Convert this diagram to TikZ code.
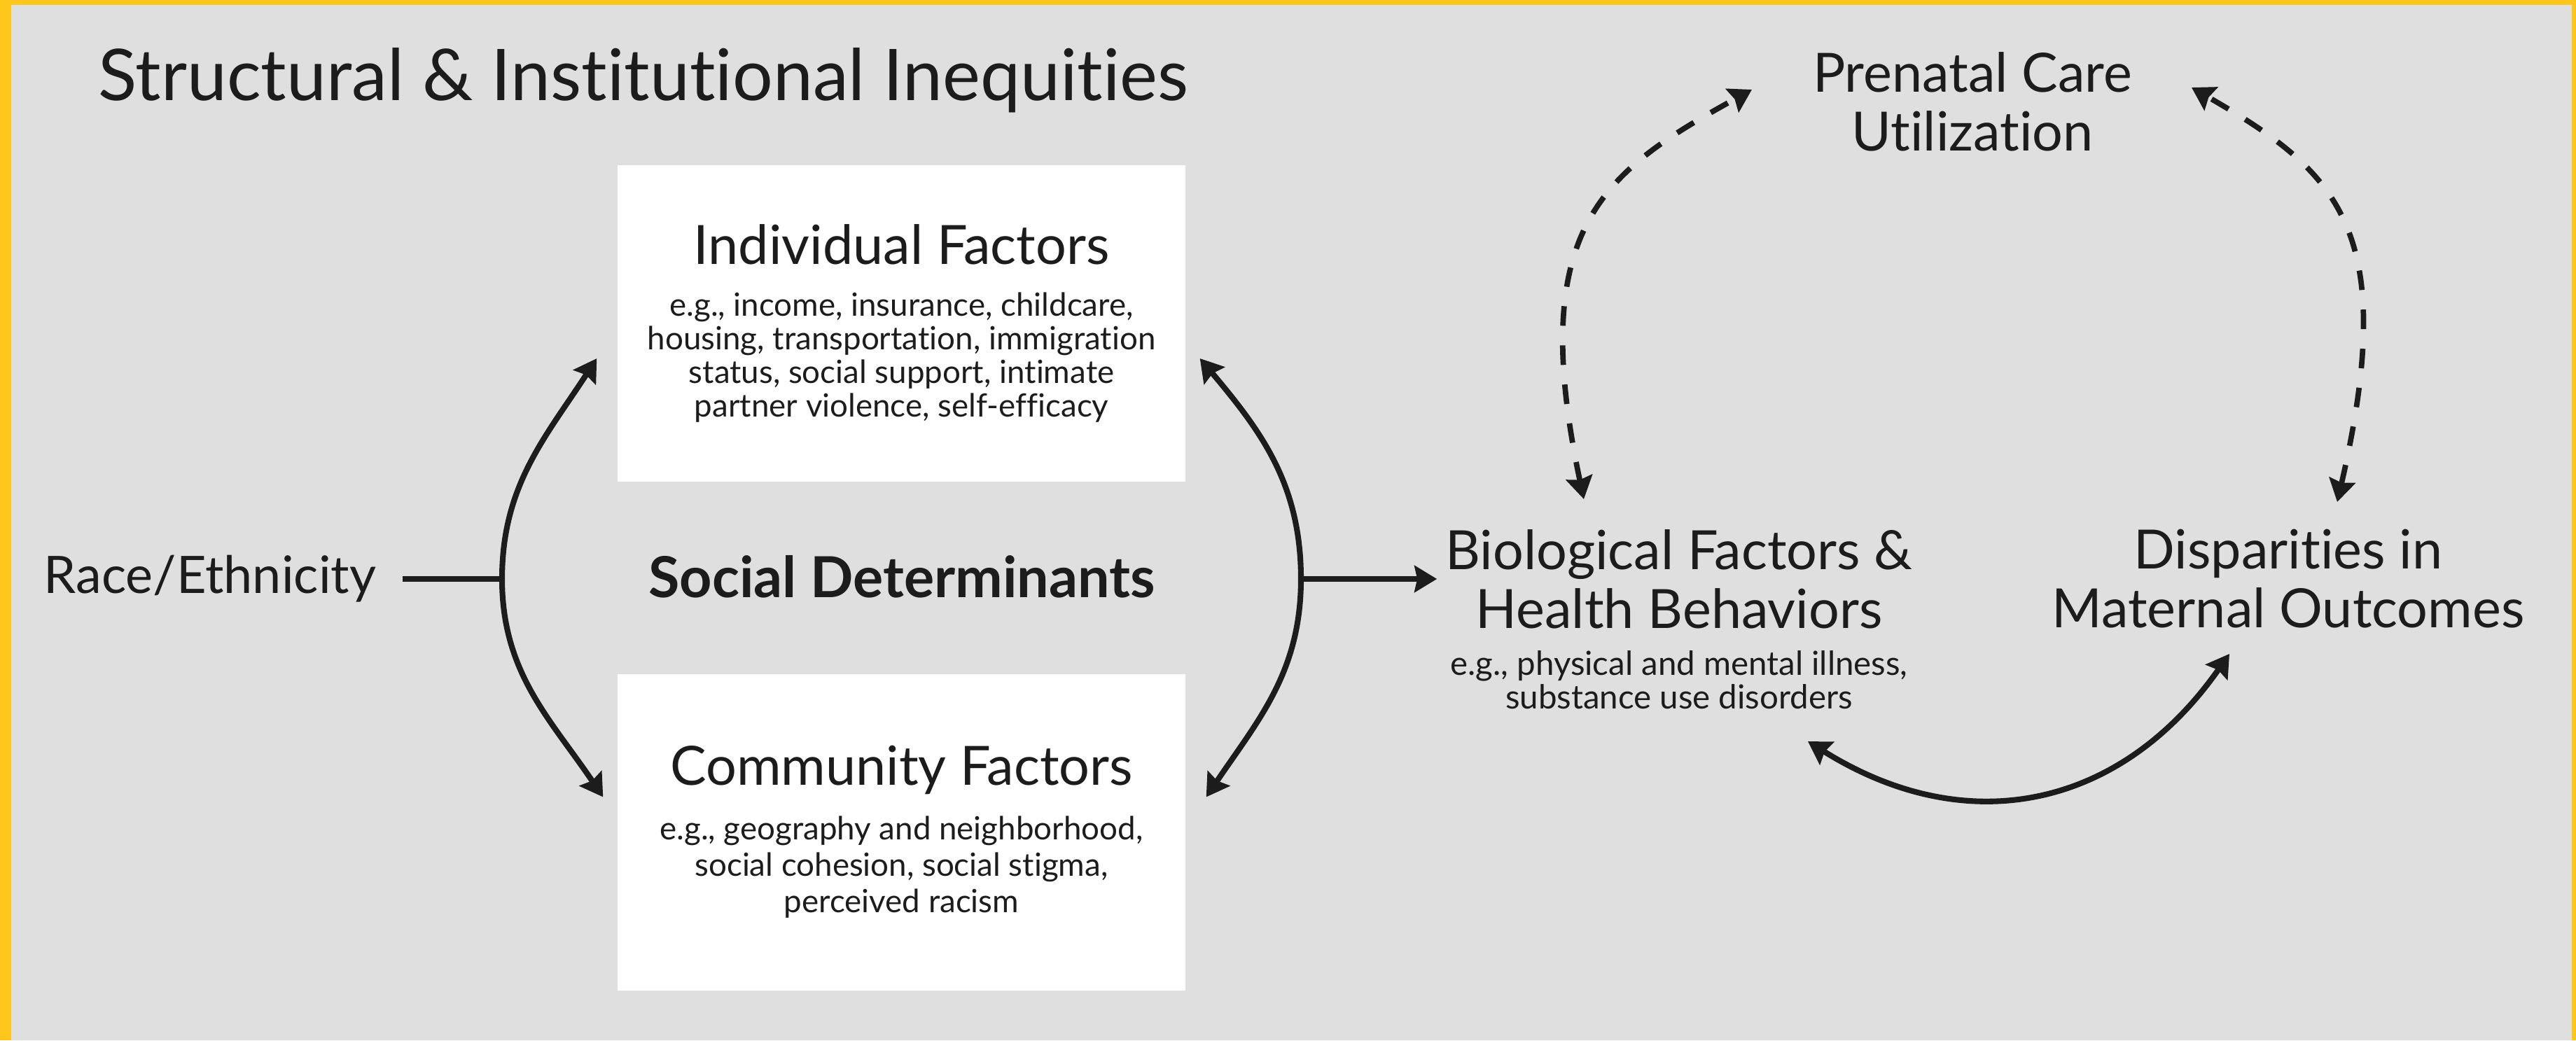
\documentclass[tikz,border=0pt]{standalone}
\usepackage{fontspec}
\setmainfont{Lato}[Ligatures=NoCommon]
\usetikzlibrary{arrows.meta, positioning, calc}
\definecolor{rimyellow}{HTML}{FEC51A}
\definecolor{panelgray}{HTML}{DFDFDF}
\definecolor{inkdark}{HTML}{1C1C1C}
\newcommand{\headfont}{\fontsize{22pt}{23.9pt}\selectfont}
\newcommand{\factorbox}[5]{%
  \node[fill=white, minimum width=8.11cm, minimum height=4.52cm,
        align=center, font=\fontsize{13pt}{#3}\selectfont] (#1) at (#2)
        {{\headfont #4}\\[7.3pt]#5};}

\begin{document}
\begin{tikzpicture}[font=\headfont, text=inkdark,
    link/.style={-{Stealth[length=3.2mm, width=3.8mm, inset=0.4mm]},
                 draw=inkdark, line width=2.3pt},
    twolink/.style={{Stealth[length=3.2mm, width=3.8mm, inset=0.4mm]}-{Stealth[length=3.2mm, width=3.8mm, inset=0.4mm]},
                 draw=inkdark, line width=2.3pt},
    dashlink/.style={twolink, line width=2.2pt, dash pattern=on 2.8mm off 2.8mm}]
  \useasboundingbox (0,0) rectangle (36.79,-14.86);
  % frame
  \fill[rimyellow] (0,0) rectangle (36.79,-14.86);
  \fill[panelgray] (0.16,-0.07) rectangle (36.73,-14.86);

  \node[anchor=base west, font=\fontsize{29pt}{33pt}\selectfont] (title)
    at (1.28,-1.43) {Structural \& Institutional Inequities};

  % left half: social determinants
  \node[font=\fontsize{21pt}{23.9pt}\selectfont] (race) at (3.00,-8.27) {Race/Ethnicity};
  \factorbox{indiv}{12.875,-4.62}{13.7pt}{Individual Factors}{e.g., income, insurance, childcare,\\
    housing, transportation, immigration\\
    status, social support, intimate\\
    partner violence, self-efficacy}
  \factorbox{comm}{12.875,-11.885}{14.8pt}{Community Factors}{e.g., geography and neighborhood,\\
    social cohesion, social stigma,\\
    perceived racism}
  \node[font=\fontsize{23pt}{26pt}\selectfont\bfseries] (socdet) at (12.88,-8.24) {Social Determinants};
  \coordinate (lsplit) at (7.17,-8.27);
  \coordinate (rsplit) at (18.58,-8.27);

  % right half: outcomes
  \node[align=center] (bio) at (23.98,-8.27) {Biological Factors \&\\Health Behaviors};
  \node[below=0.07 of bio, align=center, font=\fontsize{13.5pt}{13.7pt}\selectfont] (bionote)
    {e.g., physical and mental illness,\\substance use disorders};
  \node[align=center] (disp) at (32.68,-8.27) {Disparities in\\Maternal Outcomes};
  \node[align=center] (pcare) at (28.17,-1.45) {Prenatal Care\\Utilization};

  \draw[draw=inkdark, line width=2.3pt] ([xshift=2.5mm]race.east) -- (lsplit);
  \draw[link] (lsplit) to[out=90, in=237] ([shift={(-0.29,-0.50)}]indiv.west);
  \draw[link] (lsplit) to[out=-90, in=124] ([shift={(-0.20,0.50)}]comm.west);
  \draw[link] (rsplit) to[out=90, in=-50] ([shift={(0.20,-0.50)}]indiv.east);
  \draw[link] (rsplit) to[out=-90, in=56] ([shift={(0.29,0.50)}]comm.east);
  \draw[link] (rsplit) -- (bio);

  \draw[dashlink] ([shift={(-1.36,1.14)}]bio.center) .. controls +(102:4.0) and +(209:2.4)
    .. ([shift={(-3.15,0.17)}]pcare.center);
  \draw[dashlink] ([shift={(0.70,1.10)}]disp.center) .. controls +(77:4.0) and +(-30:2.4)
    .. ([shift={(3.13,0.20)}]pcare.center);
  \draw[twolink] ([shift={(1.84,-2.32)}]bio.center) to[out=-32, in=235, looseness=1.12]
    ([shift={(-0.84,-1.07)}]disp.center);
\end{tikzpicture}
\end{document}
